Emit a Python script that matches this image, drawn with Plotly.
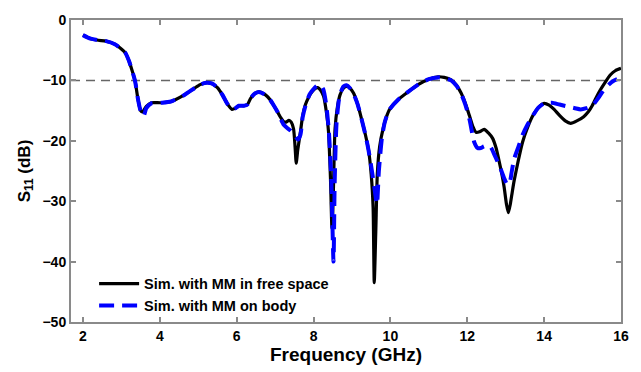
import plotly.graph_objects as go

# Sim. with MM in free space
freq_fs = [2.0, 2.2, 2.4, 2.6, 2.83, 3.0, 3.1, 3.2, 3.3, 3.36, 3.43, 3.5, 3.55, 3.65, 3.78, 4.03, 4.29, 4.64, 4.9,
           5.05, 5.2, 5.35, 5.5, 5.63, 5.75, 5.88, 5.97, 6.06, 6.19, 6.28, 6.36, 6.47, 6.58, 6.75, 6.87, 6.97,
           7.07, 7.14, 7.22, 7.29, 7.36, 7.42, 7.48, 7.52, 7.55, 7.59, 7.66, 7.72, 7.79, 7.88, 7.96, 8.05, 8.11,
           8.18, 8.26, 8.34, 8.39, 8.44, 8.48, 8.51, 8.56, 8.62, 8.69, 8.78, 8.86, 8.95, 9.04, 9.15, 9.25, 9.35,
           9.43, 9.5, 9.55, 9.58, 9.62, 9.66, 9.72, 9.81, 9.9, 9.98, 10.2, 10.46, 10.72, 11.0, 11.24, 11.4, 11.58,
           11.72, 11.84, 11.95, 12.06, 12.15, 12.23, 12.32, 12.44, 12.55, 12.66, 12.75, 12.83, 12.9, 12.96, 13.02,
           13.07, 13.12, 13.17, 13.22, 13.33, 13.44, 13.57, 13.7, 13.85, 14.0, 14.13, 14.26, 14.4, 14.55, 14.69,
           14.85, 15.03, 15.15, 15.25, 15.35, 15.46, 15.6, 15.72, 15.85, 16.0]
s11_fs = [-2.5, -3.1, -3.35, -3.5, -4.0, -4.8, -5.4, -6.8, -8.8, -10.2, -13.0, -15.0, -15.2, -14.3, -13.7, -13.7,
          -13.5, -12.4, -11.3, -10.7, -10.4, -10.5, -11.2, -12.4, -13.8, -14.8, -14.6, -14.2, -14.2, -14.0, -13.0,
          -12.2, -11.9, -12.4, -13.2, -14.2, -15.3, -16.1, -16.8, -16.9, -16.6, -16.9, -18.0, -21.0, -23.7, -21.5,
          -18.5, -15.8, -14.0, -12.7, -11.9, -11.3, -11.2, -11.6, -12.6, -15.5, -18.5, -26.0, -34.5, -30.0, -18.0,
          -14.5, -12.4, -11.3, -11.0, -11.3, -12.1, -14.0, -16.4, -19.0, -21.5, -25.5, -31.0, -43.5, -35.0, -25.5,
          -21.0, -18.0, -16.0, -14.8, -13.2, -11.9, -10.7, -9.8, -9.4, -9.5, -9.9, -10.8, -12.1, -13.8, -15.9,
          -17.7, -18.6, -18.5, -18.1, -18.7, -19.6, -21.2, -23.4, -25.5, -27.7, -30.5, -31.9, -30.5, -28.5, -26.6,
          -23.2, -20.2, -17.8, -15.9, -14.5, -13.8, -14.1, -14.8, -15.8, -16.7, -17.1, -16.7, -16.0, -15.2, -14.2,
          -12.9, -11.6, -10.2, -9.1, -8.4, -8.0]

# Sim. with MM on body
freq_body = [2.0, 2.2, 2.4, 2.6, 2.83, 3.0, 3.1, 3.2, 3.3, 3.36, 3.43, 3.5, 3.58, 3.65, 3.78, 4.03, 4.29, 4.64, 4.9,
             5.05, 5.2, 5.35, 5.5, 5.63, 5.75, 5.88, 5.97, 6.06, 6.19, 6.28, 6.36, 6.47, 6.58, 6.75, 6.87, 6.97,
             7.07, 7.14, 7.22, 7.3, 7.4, 7.5, 7.6, 7.66, 7.72, 7.8, 7.9, 7.98, 8.08, 8.17, 8.25, 8.33, 8.4, 8.46,
             8.52, 8.55, 8.6, 8.68, 8.78, 8.86, 8.95, 9.04, 9.15, 9.25, 9.35, 9.43, 9.52, 9.6, 9.65, 9.7, 9.78,
             9.85, 9.92, 9.98, 10.2, 10.46, 10.72, 11.0, 11.24, 11.4, 11.58, 11.72, 11.84, 11.95, 12.06, 12.18,
             12.27, 12.35, 12.45, 12.6, 12.72, 12.86, 12.96, 13.04, 13.1, 13.16, 13.22, 13.33, 13.44, 13.57, 13.7,
             13.85, 14.0, 14.2, 14.4, 14.6, 14.8, 14.95, 15.1, 15.25, 15.4, 15.55, 15.7, 15.8, 15.9]
s11_body = [-2.5, -3.1, -3.35, -3.5, -4.0, -4.8, -5.4, -6.8, -8.8, -10.2, -13.0, -15.0, -15.9, -14.6, -13.8, -13.7,
            -13.5, -12.4, -11.3, -10.7, -10.4, -10.5, -11.2, -12.4, -13.8, -14.8, -14.6, -14.2, -14.2, -14.0, -13.0,
            -12.2, -11.9, -12.4, -13.2, -14.2, -15.3, -16.3, -17.3, -17.8, -18.3, -19.0, -19.8, -19.0, -16.0, -14.0,
            -12.3, -11.6, -10.9, -10.7, -11.4, -14.0, -18.5, -26.0, -40.0, -27.0, -17.0, -12.5, -11.0, -10.8, -11.3,
            -12.2, -14.0, -16.4, -19.0, -21.5, -25.0, -28.5, -30.5, -25.0, -19.5, -17.0, -15.6, -14.8, -13.2, -11.9,
            -10.7, -9.8, -9.5, -9.6, -10.0, -10.9, -12.2, -14.0, -16.5, -20.2, -21.2, -21.2, -20.9, -21.0, -22.5,
            -24.5, -26.2, -27.2, -27.0, -25.0, -23.0, -21.0, -19.0, -17.3, -15.9, -14.5, -13.8, -13.7, -14.0, -14.3,
            -14.6, -14.8, -14.6, -14.2, -13.0, -11.6, -10.6, -10.1, -9.8]

threshold = -10
x_ticks = [2, 4, 6, 8, 10, 12, 14, 16]
y_ticks = [0, -10, -20, -30, -40, -50]

FONT = "Arial, Liberation Sans, sans-serif"

fig = go.Figure()
fig.add_trace(go.Scatter(x=freq_fs, y=s11_fs, mode="lines", name="Sim. with MM in free space",
                         line=dict(color="black", width=3.2, shape="spline", smoothing=0.6)))
fig.add_trace(go.Scatter(x=freq_body, y=s11_body, mode="lines", name="Sim. with MM on body",
                         line=dict(color="#0000ff", width=4, dash="15px,8px", shape="spline", smoothing=0.6)))

fig.add_shape(type="line", xref="paper", x0=0, x1=1, yref="y", y0=threshold, y1=threshold,
              line=dict(color="#666666", width=1.5, dash="9px,6px"), layer="below")

axis_common = dict(showgrid=False, zeroline=False, showline=True, linecolor="#8a8a8a", linewidth=2,
                   mirror="ticks", ticks="inside", ticklen=5, tickcolor="#8a8a8a", tickwidth=1.5,
                   tickfont=dict(family=FONT, size=14, color="black", weight="bold"))

fig.update_layout(
    width=641, height=372,
    margin=dict(l=71, r=18, t=15, b=48),
    paper_bgcolor="white", plot_bgcolor="white",
    font=dict(family=FONT, color="black"),
    xaxis=dict(range=[1.69, 16], tickvals=x_ticks,
               title=dict(text="Frequency (GHz)", font=dict(family=FONT, size=19, weight="bold"), standoff=3),
               **axis_common),
    yaxis=dict(range=[-50, 0], tickvals=y_ticks, ticksuffix=" ",
               title=dict(text="S<sub>11</sub> (dB)", font=dict(family=FONT, size=17, weight="bold"), standoff=8),
               **axis_common),
    legend=dict(x=0.042, y=0.18, xanchor="left", yanchor="top", bgcolor="rgba(0,0,0,0)",
                font=dict(family=FONT, size=14.5, color="black", weight="bold"), tracegroupgap=0,
                itemwidth=40),
    showlegend=True,
)

fig.write_html("out.html")
